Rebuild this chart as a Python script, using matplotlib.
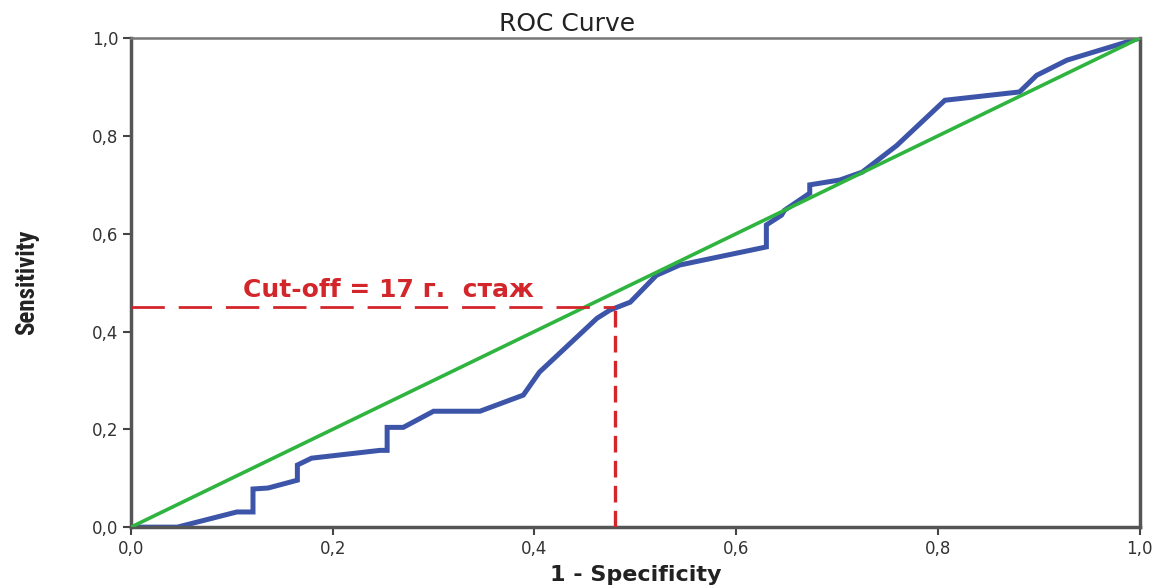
import matplotlib
matplotlib.use("Agg")
import matplotlib.pyplot as plt
from matplotlib import font_manager

# ROC curve data (1 - specificity, sensitivity)
fpr = [0.0, 0.046, 0.105, 0.121, 0.121, 0.136, 0.165, 0.165, 0.179, 0.247, 0.254, 0.254,
       0.27, 0.30, 0.346, 0.389, 0.405, 0.462, 0.475, 0.495, 0.521, 0.544, 0.630, 0.630,
       0.645, 0.648, 0.673, 0.673, 0.703, 0.725, 0.759, 0.807, 0.881, 0.898, 0.928, 1.0]
tpr = [0.0, 0.0, 0.031, 0.031, 0.078, 0.080, 0.096, 0.127, 0.141, 0.157, 0.157, 0.204,
       0.204, 0.237, 0.237, 0.270, 0.317, 0.427, 0.444, 0.460, 0.515, 0.536, 0.573, 0.618,
       0.638, 0.648, 0.683, 0.700, 0.710, 0.726, 0.780, 0.873, 0.890, 0.924, 0.955, 1.0]
ref_line = [0.0, 1.0]
cutoff_x = 0.48
cutoff_y = 0.45
cutoff_label = "Cut-off = 17 г.  стаж"
ticks = [0.0, 0.2, 0.4, 0.6, 0.8, 1.0]
tick_labels = ["0,0", "0,2", "0,4", "0,6", "0,8", "1,0"]


def pick_font(cands, default="DejaVu Sans"):
    for c in cands:
        try:
            font_manager.findfont(font_manager.FontProperties(family=c),
                                  fallback_to_default=False)
            return c
        except Exception:
            pass
    return default


narrow = pick_font(["Liberation Sans Narrow", "DejaVu Sans Condensed", "Roboto Condensed"])

fig = plt.figure(figsize=(11.64, 5.87), dpi=100)
ax = fig.add_axes([0.1125, 0.102, 0.8665, 0.833])

ax.plot(ref_line, ref_line, color="#2fb53f", lw=2.6, zorder=3, solid_capstyle="butt")
ax.plot(fpr, tpr, color="#3d55a8", lw=3.6, zorder=2, solid_joinstyle="miter")
ax.plot([0, cutoff_x], [cutoff_y, cutoff_y], color="#d3262b", lw=2.0,
        dashes=(12, 5), zorder=4)
ax.plot([cutoff_x, cutoff_x], [0, cutoff_y], color="#d3262b", lw=2.4,
        dashes=(5, 2.5), zorder=4)
ax.text(0.111, 0.470, cutoff_label, color="#d3262b", fontsize=18, fontweight="bold",
        family=["DejaVu Sans"], va="baseline", ha="left", zorder=5)

ax.set_xlim(0, 1)
ax.set_ylim(0, 1)
ax.set_xticks(ticks)
ax.set_xticklabels(tick_labels)
ax.set_yticks(ticks)
ax.set_yticklabels(tick_labels)
ax.tick_params(axis="both", direction="out", length=6, width=1.5, color="#444444",
               labelsize=12, labelcolor="#333333", pad=3)
for s in ["left", "right", "bottom"]:
    ax.spines[s].set_linewidth(2.5)
    ax.spines[s].set_color("#555555")
ax.spines["top"].set_linewidth(1.8)
ax.spines["top"].set_color("#777777")

ax.set_title("ROC Curve", fontsize=18, pad=5, color="#222222", x=0.432)
ax.set_xlabel("1 - Specificity", fontsize=16, fontweight="bold", color="#222222", labelpad=5)
ax.set_ylabel("Sensitivity", fontsize=18, fontweight="bold", color="#222222", labelpad=38,
              family=[narrow, "DejaVu Sans"], fontstretch="condensed")

fig.savefig("out.png", dpi=100)
